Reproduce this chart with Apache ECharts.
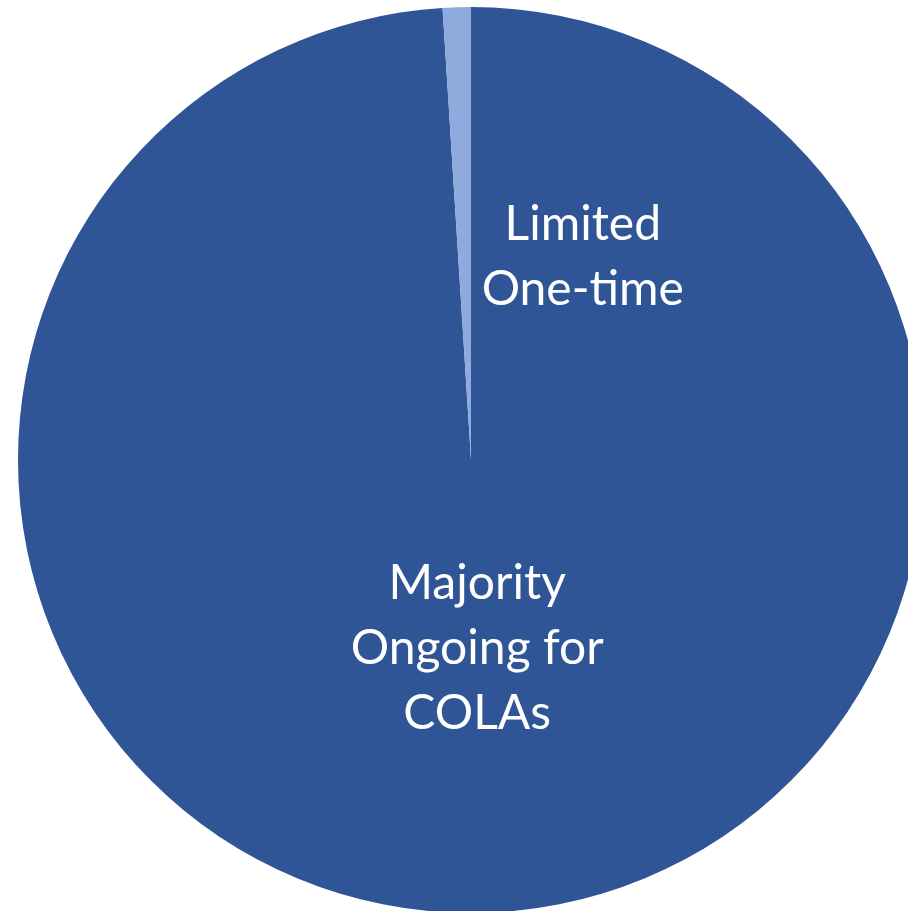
<!DOCTYPE html>
<html>
<head>
<meta charset="utf-8">
<script src="https://cdn.jsdelivr.net/npm/echarts@6/dist/echarts.min.js"></script>
<style>html,body{margin:0;padding:0;background:#fff;}#c{width:908px;height:911px;}</style>
</head>
<body>
<div id="c"></div>
<script>
var categories = ["Majority\nOngoing for\nCOLAs", "Limited\nOne-time"];
var values = [99, 1];
var colors = ["#2F5597", "#8FAADC"];
var labelShift = [[-1, -41], [119, 26]];

var chart = echarts.init(document.getElementById('c'));
chart.setOption({
  animation: false,
  series: [{
    type: 'pie',
    center: [471, 460],
    radius: [0, 453],
    startAngle: 90,
    clockwise: true,
    avoidLabelOverlap: false,
    data: categories.map(function (n, i) {
      return { name: n, value: values[i], itemStyle: { color: colors[i] } };
    }),
    itemStyle: { borderWidth: 0 },
    label: {
      show: true,
      position: 'inside',
      formatter: '{b}',
      color: '#ffffff',
      fontFamily: 'Lato',
      fontSize: 48,
      lineHeight: 65,
      align: 'center'
    },
    labelLine: { show: false },
    labelLayout: function (p) {
      var s = labelShift[p.dataIndex];
      return { dx: s[0], dy: s[1] };
    }
  }]
});
</script>
</body>
</html>
